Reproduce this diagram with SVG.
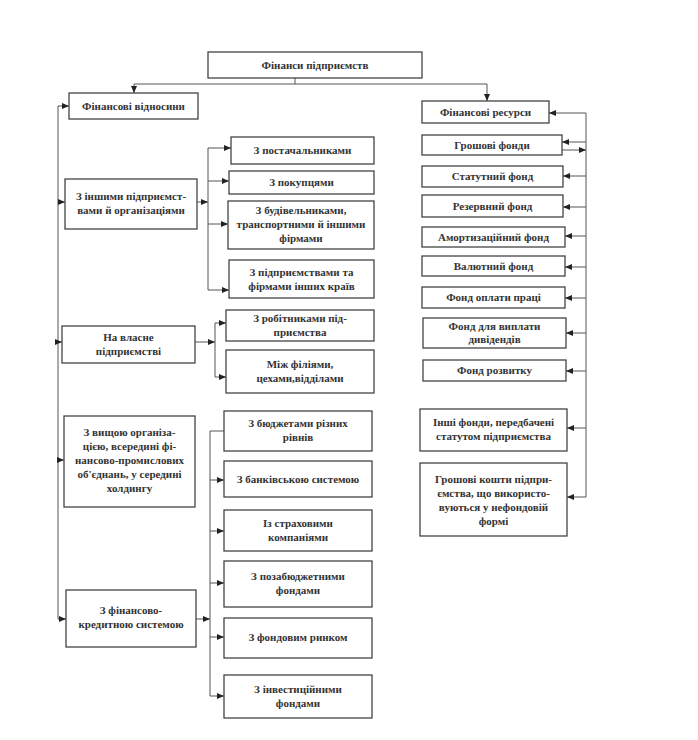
<svg xmlns="http://www.w3.org/2000/svg" width="698" height="740" viewBox="0 0 698 740">
<style>
.b{fill:#fff;stroke:#444;stroke-width:1.3}
.t{font-family:"Liberation Serif","DejaVu Serif",serif;font-size:11px;font-weight:bold;fill:#333;text-anchor:middle}
.c{fill:none;stroke:#555;stroke-width:1}
</style>
<defs>
<marker id="a" markerUnits="userSpaceOnUse" markerWidth="8" markerHeight="8" refX="7" refY="4" orient="auto">
<path d="M0,1 L7,4 L0,7 Z" fill="#222"/>
</marker>
</defs>
<rect width="698" height="740" fill="#fff"/>
<g id="connectors">
<path class="c" d="M295,78 V84 M134,84 H487"/>
<path class="c" d="M134,84 V93" marker-end="url(#a)"/>
<path class="c" d="M487,84 V101" marker-end="url(#a)"/>
<path class="c" d="M58,106 V619"/>
<path class="c" d="M58,106 H69" marker-end="url(#a)"/>
<path class="c" d="M58,202 H65" marker-end="url(#a)"/>
<path class="c" d="M58,342 H62" marker-end="url(#a)"/>
<path class="c" d="M58,460 H64" marker-end="url(#a)"/>
<path class="c" d="M58,619 H66" marker-end="url(#a)"/>
<path class="c" d="M197,202 H208" marker-end="url(#a)"/>
<path class="c" d="M208,148 V290"/>
<path class="c" d="M208,148 H231" marker-end="url(#a)"/>
<path class="c" d="M208,181 H229" marker-end="url(#a)"/>
<path class="c" d="M208,224 H228" marker-end="url(#a)"/>
<path class="c" d="M208,290 H229" marker-end="url(#a)"/>
<path class="c" d="M195,342 H215" marker-end="url(#a)"/>
<path class="c" d="M215,323 V377"/>
<path class="c" d="M215,323 H226" marker-end="url(#a)"/>
<path class="c" d="M215,377 H226" marker-end="url(#a)"/>
<path class="c" d="M196,619 H210" marker-end="url(#a)"/>
<path class="c" d="M210,431 V696 M210,431 H224"/>
<path class="c" d="M210,480 H224" marker-end="url(#a)"/>
<path class="c" d="M210,531 H224" marker-end="url(#a)"/>
<path class="c" d="M210,583 H224" marker-end="url(#a)"/>
<path class="c" d="M210,637 H224" marker-end="url(#a)"/>
<path class="c" d="M210,696 H224" marker-end="url(#a)"/>
<path class="c" d="M586,113 V497"/>
<path class="c" d="M586,113 H549" marker-end="url(#a)"/>
<path class="c" d="M586,142 H562" marker-end="url(#a)"/>
<path class="c" d="M562,150 H586" marker-end="url(#a)"/>
<path class="c" d="M586,176 H563" marker-end="url(#a)"/>
<path class="c" d="M586,207 H563" marker-end="url(#a)"/>
<path class="c" d="M586,236 H565" marker-end="url(#a)"/>
<path class="c" d="M586,267 H565" marker-end="url(#a)"/>
<path class="c" d="M586,298 H565" marker-end="url(#a)"/>
<path class="c" d="M586,333 H566" marker-end="url(#a)"/>
<path class="c" d="M586,371 H566" marker-end="url(#a)"/>
<path class="c" d="M586,428 H567" marker-end="url(#a)"/>
<path class="c" d="M586,497 H567" marker-end="url(#a)"/>
</g>
<g id="top"><rect class="b" x="208" y="52" width="214" height="26"/><text class="t" x="315" y="69">Фінанси підприємств</text></g>
<g id="fv"><rect class="b" x="69" y="93" width="129" height="26"/><text class="t" x="133.5" y="110">Фінансові відносини</text></g>
<g id="ini"><rect class="b" x="65" y="179" width="132" height="50"/><text class="t" x="131" y="200">З іншими підприємст-</text><text class="t" x="131" y="214">вами й організаціями</text></g>
<g id="postach"><rect class="b" x="231" y="137" width="143" height="27"/><text class="t" x="302.5" y="154">З постачальниками</text></g>
<g id="pokup"><rect class="b" x="229" y="171" width="145" height="23"/><text class="t" x="301.5" y="186">З покупцями</text></g>
<g id="budiv"><rect class="b" x="228" y="201" width="146" height="48"/><text class="t" x="301" y="214">З будівельниками,</text><text class="t" x="301" y="228">транспортними й іншими</text><text class="t" x="301" y="242">фірмами</text></g>
<g id="pidpr"><rect class="b" x="229" y="260" width="145" height="38"/><text class="t" x="301.5" y="276">З підприємствами та</text><text class="t" x="301.5" y="290">фірмами інших країв</text></g>
<g id="vlasne"><rect class="b" x="62" y="326" width="133" height="37"/><text class="t" x="128.5" y="341">На власне</text><text class="t" x="128.5" y="355">підприємстві</text></g>
<g id="robit"><rect class="b" x="226" y="310" width="148" height="31"/><text class="t" x="300" y="322">З робітниками під-</text><text class="t" x="300" y="336">приємства</text></g>
<g id="mizh"><rect class="b" x="226" y="350" width="148" height="43"/><text class="t" x="300" y="368">Між філіями,</text><text class="t" x="300" y="382">цехами,відділами</text></g>
<g id="vyshch"><rect class="b" x="64" y="416" width="131" height="91"/><text class="t" x="129.5" y="436">З вищою організа-</text><text class="t" x="129.5" y="450">цією, всередині фі-</text><text class="t" x="129.5" y="464">нансово-промислових</text><text class="t" x="129.5" y="478">об'єднань, у середині</text><text class="t" x="129.5" y="492">холдингу</text></g>
<g id="fk"><rect class="b" x="66" y="590" width="130" height="57"/><text class="t" x="131" y="614">З фінансово-</text><text class="t" x="131" y="628">кредитною системою</text></g>
<g id="budzh"><rect class="b" x="224" y="411" width="148" height="40"/><text class="t" x="298" y="427">З бюджетами різних</text><text class="t" x="298" y="441">рівнів</text></g>
<g id="bank"><rect class="b" x="224" y="461" width="148" height="36"/><text class="t" x="298" y="483">З банківською системою</text></g>
<g id="strah"><rect class="b" x="224" y="510" width="148" height="41"/><text class="t" x="298" y="527">Із страховими</text><text class="t" x="298" y="541">компаніями</text></g>
<g id="pozab"><rect class="b" x="224" y="561" width="148" height="46"/><text class="t" x="298" y="580">З позабюджетними</text><text class="t" x="298" y="594">фондами</text></g>
<g id="fondr"><rect class="b" x="224" y="618" width="148" height="40"/><text class="t" x="298" y="641">З фондовим ринком</text></g>
<g id="invest"><rect class="b" x="224" y="675" width="148" height="43"/><text class="t" x="298" y="693">З інвестиційними</text><text class="t" x="298" y="707">фондами</text></g>
<g id="fr"><rect class="b" x="422" y="101" width="127" height="22"/><text class="t" x="485.5" y="116">Фінансові ресурси</text></g>
<g id="gf"><rect class="b" x="422" y="135" width="140" height="20"/><text class="t" x="492" y="149">Грошові фонди</text></g>
<g id="stat"><rect class="b" x="422" y="166" width="141" height="21"/><text class="t" x="492.5" y="180">Статутний фонд</text></g>
<g id="rez"><rect class="b" x="422" y="195" width="141" height="22"/><text class="t" x="492.5" y="210">Резервний фонд</text></g>
<g id="amort"><rect class="b" x="422" y="227" width="143" height="20"/><text class="t" x="493.5" y="241">Амортизаційний фонд</text></g>
<g id="val"><rect class="b" x="422" y="256" width="143" height="20"/><text class="t" x="493.5" y="270">Валютний фонд</text></g>
<g id="fop"><rect class="b" x="422" y="287" width="143" height="21"/><text class="t" x="493.5" y="301">Фонд оплати праці</text></g>
<g id="div"><rect class="b" x="423" y="318" width="143" height="30"/><text class="t" x="494.5" y="330">Фонд для виплати</text><text class="t" x="494.5" y="343">дивідендів</text></g>
<g id="rozv"><rect class="b" x="423" y="360" width="143" height="21"/><text class="t" x="494.5" y="374">Фонд розвитку</text></g>
<g id="inshi"><rect class="b" x="420" y="409" width="147" height="42"/><text class="t" x="493.5" y="426">Інші фонди, передбачені</text><text class="t" x="493.5" y="440">статутом підприємства</text></g>
<g id="kosh"><rect class="b" x="420" y="463" width="147" height="73"/><text class="t" x="493.5" y="483">Грошові кошти підпри-</text><text class="t" x="493.5" y="497">ємства, що використо-</text><text class="t" x="493.5" y="511">вуються у нефондовій</text><text class="t" x="493.5" y="525">формі</text></g>
</svg>
